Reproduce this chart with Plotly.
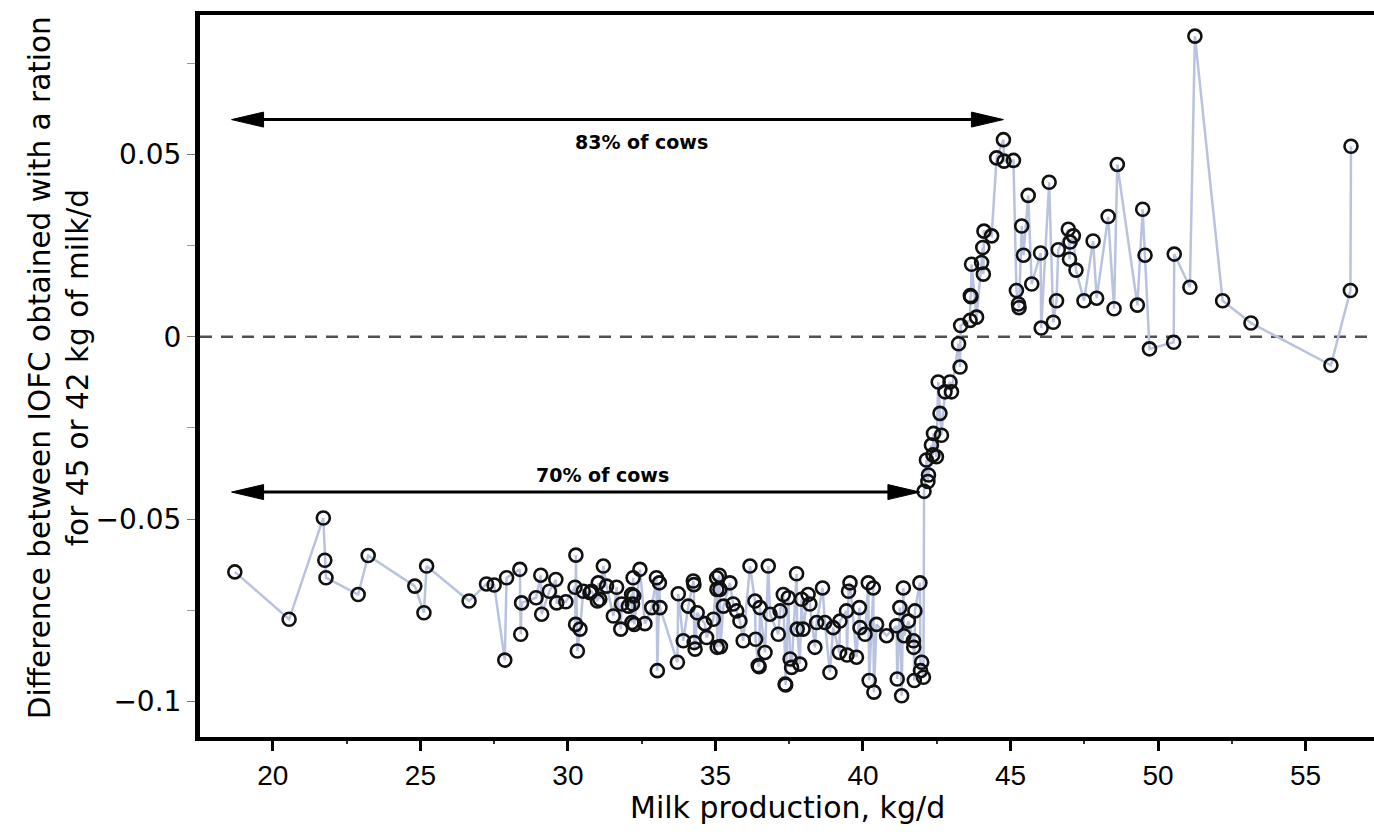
import plotly.graph_objects as go

# Milk production (kg/d) and difference in IOFC
milk = [
    18.71, 20.55, 21.71, 21.76, 21.80, 22.89, 23.23, 24.81, 25.12, 25.21,
    26.65, 27.24, 27.50, 27.86, 27.92, 28.37, 28.40, 28.43, 28.92, 29.08,
    29.11, 29.37, 29.59, 29.62, 29.93, 30.24, 30.26, 30.27, 30.32, 30.41,
    30.52, 30.75, 30.80, 31.00, 31.03, 31.08, 31.20, 31.31, 31.54, 31.65,
    31.79, 31.82, 32.05, 32.16, 32.17, 32.19, 32.21, 32.23, 32.25, 32.44,
    32.61, 32.84, 33.00, 33.03, 33.10, 33.12, 33.71, 33.74, 33.91, 34.08,
    34.25, 34.27, 34.28, 34.31, 34.38, 34.64, 34.70, 34.93, 35.04, 35.05,
    35.06, 35.13, 35.15, 35.17, 35.27, 35.49, 35.60, 35.72, 35.83, 35.94,
    36.17, 36.34, 36.36, 36.45, 36.48, 36.51, 36.68, 36.79, 36.85, 37.13,
    37.19, 37.30, 37.36, 37.38, 37.47, 37.53, 37.58, 37.75, 37.77, 37.86,
    37.92, 37.97, 38.14, 38.20, 38.37, 38.43, 38.63, 38.71, 38.88, 38.99,
    39.20, 39.22, 39.44, 39.46, 39.51, 39.56, 39.78, 39.88, 39.90, 40.07,
    40.18, 40.21, 40.35, 40.37, 40.46, 40.80, 41.14, 41.16, 41.25, 41.31,
    41.37, 41.39, 41.54, 41.71, 41.72, 41.74, 41.76, 41.93, 41.95, 41.99,
    42.05, 42.07, 42.15, 42.20, 42.22, 42.32, 42.37, 42.39, 42.49, 42.55,
    42.61, 42.66, 42.78, 42.95, 43.00, 43.24, 43.29, 43.31, 43.63, 43.64,
    43.66, 43.68, 43.85, 44.02, 44.06, 44.08, 44.10, 44.36, 44.53, 44.76,
    44.78, 45.10, 45.20, 45.27, 45.29, 45.38, 45.44, 45.60, 45.72, 46.02,
    46.04, 46.31, 46.45, 46.56, 46.62, 46.96, 47.00, 47.02, 47.13, 47.22,
    47.49, 47.80, 47.92, 48.31, 48.51, 48.62, 49.30, 49.48, 49.56, 49.71,
    50.53, 50.55, 51.08, 51.25, 52.19, 53.15, 55.86, 56.52, 56.54,
]
iofc_diff = [
    -0.0645, -0.0775, -0.0497, -0.0613, -0.0661, -0.0707, -0.0600, -0.0684, -0.0757, -0.0629,
    -0.0725, -0.0678, -0.0681, -0.0887, -0.0661, -0.0638, -0.0816, -0.0730, -0.0716, -0.0654,
    -0.0761, -0.0698, -0.0666, -0.0730, -0.0727, -0.0687, -0.0789, -0.0599, -0.0862, -0.0802,
    -0.0698, -0.0702, -0.0698, -0.0725, -0.0675, -0.0720, -0.0629, -0.0684, -0.0766, -0.0687,
    -0.0802, -0.0733, -0.0739, -0.0707, -0.0784, -0.0733, -0.0661, -0.0711, -0.0789, -0.0638,
    -0.0787, -0.0743, -0.0661, -0.0916, -0.0675, -0.0743, -0.0893, -0.0705, -0.0834, -0.0739,
    -0.0670, -0.0680, -0.0839, -0.0857, -0.0757, -0.0787, -0.0825, -0.0775, -0.0661, -0.0693,
    -0.0852, -0.0654, -0.0693, -0.0850, -0.0739, -0.0675, -0.0733, -0.0752, -0.0780, -0.0834,
    -0.0629, -0.0725, -0.0830, -0.0902, -0.0905, -0.0743, -0.0866, -0.0629, -0.0761, -0.0816,
    -0.0752, -0.0707, -0.0953, -0.0955, -0.0716, -0.0884, -0.0907, -0.0650, -0.0802, -0.0898,
    -0.0720, -0.0802, -0.0707, -0.0733, -0.0852, -0.0784, -0.0689, -0.0784, -0.0921, -0.0798,
    -0.0866, -0.0780, -0.0752, -0.0873, -0.0698, -0.0675, -0.0879, -0.0743, -0.0798, -0.0816,
    -0.0675, -0.0943, -0.0689, -0.0975, -0.0789, -0.0820, -0.0793, -0.0939, -0.0743, -0.0985,
    -0.0689, -0.0820, -0.0780, -0.0834, -0.0852, -0.0943, -0.0752, -0.0675, -0.0916, -0.0893,
    -0.0934, -0.0424, -0.0338, -0.0397, -0.0379, -0.0297, -0.0324, -0.0265, -0.0329, -0.0124,
    -0.0210, -0.0270, -0.0151, -0.0124, -0.0151, -0.0019, -0.0083, 0.0031, 0.0045, 0.0113,
    0.0110, 0.0199, 0.0054, 0.0204, 0.0245, 0.0172, 0.0290, 0.0277, 0.0491, 0.0541,
    0.0482, 0.0484, 0.0127, 0.0090, 0.0080, 0.0304, 0.0224, 0.0388, 0.0145, 0.0230,
    0.0024, 0.0424, 0.0040, 0.0099, 0.0239, 0.0295, 0.0213, 0.0260, 0.0277, 0.0183,
    0.0099, 0.0263, 0.0106, 0.0330, 0.0077, 0.0473, 0.0087, 0.0350, 0.0224, -0.0033,
    -0.0015, 0.0227, 0.0136, 0.0825, 0.0099, 0.0038, -0.0078, 0.0127, 0.0523,
]

x_ticks = [20, 25, 30, 35, 40, 45, 50, 55]
y_ticks = [-0.1, -0.05, 0, 0.05]
y_tick_text = ["\u22120.1", "\u22120.05", "0", "0.05"]

arrow_83 = dict(x0=18.6, x1=44.76, y=0.0596, label="83% of cows", lx=32.5, ly=0.0534)
arrow_70 = dict(x0=18.6, x1=41.93, y=-0.0426, label="70% of cows", lx=31.17, ly=-0.0379)

pairs = sorted(zip(milk, iofc_diff), key=lambda p: p[0])
xs = [p[0] for p in pairs]
ys = [p[1] for p in pairs]

ARIAL = "Liberation Sans, Arial, Helvetica, sans-serif"
WIDE = "DejaVu Sans, Verdana, sans-serif"

fig = go.Figure()
fig.add_trace(go.Scatter(
    x=xs, y=ys, mode="lines",
    line=dict(color="#b9c3e0", width=2.5),
    hoverinfo="skip", showlegend=False,
))
fig.add_trace(go.Scatter(
    x=xs, y=ys, mode="markers",
    marker=dict(symbol="circle-open", size=13, color="#111111", line=dict(width=2.6)),
    showlegend=False,
))

shapes = [dict(type="line", xref="paper", yref="y", x0=0, x1=1, y0=0, y1=0,
               line=dict(color="#505050", width=2.5, dash="12px,9px"), layer="below")]
annotations = []
for a in (arrow_83, arrow_70):
    shapes.append(dict(type="line", xref="x", yref="y", x0=a["x0"] + 0.5, x1=a["x1"] - 0.5,
                       y0=a["y"], y1=a["y"], line=dict(color="black", width=3)))
    shapes.append(dict(type="path", xref="x", yref="y", xsizemode="pixel", ysizemode="pixel",
                       xanchor=a["x0"], yanchor=a["y"], path="M0,0 L32,7.5 L32,-7.5 Z",
                       fillcolor="black", line=dict(color="black", width=1)))
    shapes.append(dict(type="path", xref="x", yref="y", xsizemode="pixel", ysizemode="pixel",
                       xanchor=a["x1"], yanchor=a["y"], path="M0,0 L-32,7.5 L-32,-7.5 Z",
                       fillcolor="black", line=dict(color="black", width=1)))
    annotations.append(dict(x=a["lx"], y=a["ly"], xref="x", yref="y", text="<b>%s</b>" % a["label"],
                            showarrow=False, font=dict(family=WIDE, size=19, color="black")))

annotations.append(dict(x=0.5, y=-0.098, xref="paper", yref="paper", text="Milk production, kg/d",
                        showarrow=False, yanchor="middle",
                        font=dict(family=WIDE, size=30, color="black")))
annotations.append(dict(x=-0.12, y=0.511, xref="paper", yref="paper",
                        text="Difference between IOFC obtained with a ration<br>for 45 or 42 kg of milk/d",
                        textangle=-90, showarrow=False, xanchor="center", yanchor="middle",
                        font=dict(family=WIDE, size=29.5, color="black")))

fig.update_layout(
    width=1374, height=835,
    margin=dict(l=200, r=0, t=15, b=98),
    paper_bgcolor="white", plot_bgcolor="white",
    shapes=shapes, annotations=annotations,
    font=dict(family=ARIAL, color="black"),
    xaxis=dict(range=[17.53, 57.32], tickvals=x_ticks, ticks="outside", ticklen=10, tickwidth=3,
               tickcolor="black", showline=True, linewidth=4, linecolor="black", mirror=True,
               showgrid=False, zeroline=False, tickfont=dict(size=28, family=ARIAL),
               minor=dict(dtick=2.5, tick0=0, ticks="outside", ticklen=3, tickwidth=2, tickcolor="#333")),
    yaxis=dict(range=[-0.1098, 0.0883], tickvals=y_ticks, ticktext=y_tick_text, ticks="outside",
               ticklen=8, tickwidth=1, tickcolor="#777", showline=True, linewidth=5, linecolor="black",
               mirror=False, showgrid=False, zeroline=False, tickfont=dict(size=28, family=WIDE),
               minor=dict(dtick=0.025, tick0=0, ticks="outside", ticklen=8, tickwidth=1, tickcolor="#999")),
)

fig.write_html("out.html")
